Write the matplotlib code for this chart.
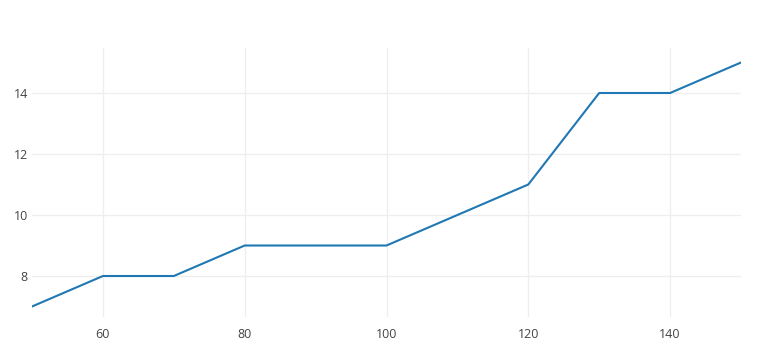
import matplotlib.pyplot as plt

plt.rcParams['font.family'] = ['Open Sans', 'DejaVu Sans']

x = [50, 60, 70, 80, 90, 100, 110, 120, 130, 140, 150]
y = [7, 8, 8, 9, 9, 9, 10, 11, 14, 14, 15]
xticks = [60, 80, 100, 120, 140]
yticks = [8, 10, 12, 14]

fig = plt.figure(figsize=(7.64, 3.57), dpi=100)
ax = fig.add_axes([32 / 764, 40 / 357, 709 / 764, 269 / 357])

ax.plot(x, y, color='#1f77b4', linewidth=1.5, solid_joinstyle='round', zorder=3)

ax.set_xlim(50, 150)
ax.set_ylim(6.656, 15.475)
ax.set_xticks(xticks)
ax.set_yticks(yticks)
ax.grid(True, color='#eeeeee', linewidth=0.9)
ax.set_axisbelow(True)
for s in ax.spines.values():
    s.set_visible(False)
ax.tick_params(length=0, labelsize=9, labelcolor='#444444')
ax.tick_params(axis='x', pad=8)
ax.tick_params(axis='y', pad=3)

fig.savefig('out.png', dpi=100)
